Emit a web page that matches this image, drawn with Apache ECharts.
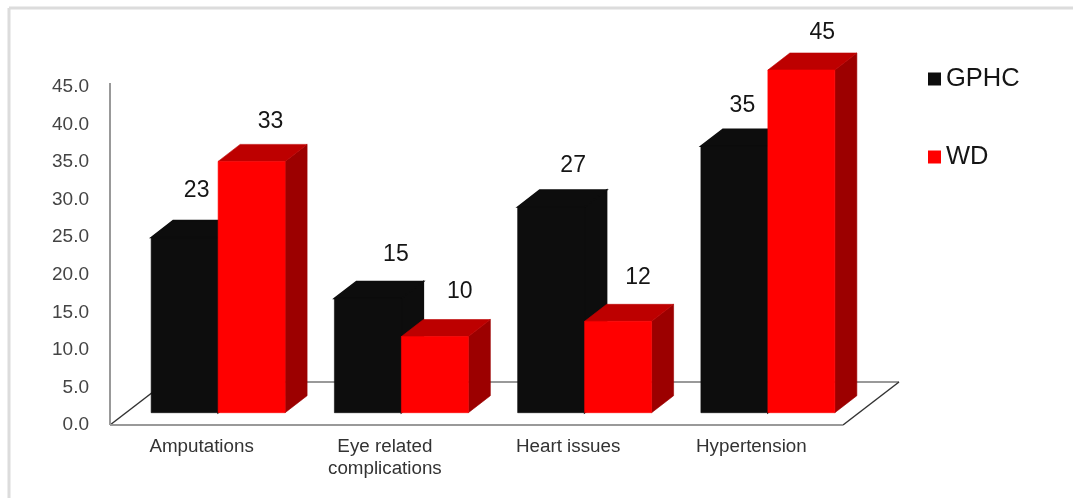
<!DOCTYPE html>
<html>
<head>
<meta charset="utf-8">
<style>html,body{margin:0;padding:0;background:#fff}#c{width:1073px;height:498px}</style>
<script src="https://cdn.jsdelivr.net/npm/echarts@6/dist/echarts.min.js"></script>
</head>
<body>
<div id="c"></div>
<script>
const categories = ['Amputations', 'Eye related\ncomplications', 'Heart issues', 'Hypertension'];
const gphc = [23, 15, 27, 35];
const wd = [33, 10, 12, 45];
const yTicks = [0, 5, 10, 15, 20, 25, 30, 35, 40, 45];

// Label placement and styling, kept apart from the data
const gphcLabelNudge = [[12, -47], [28, -44], [22, -41.5], [8, -40]];
const wdLabelNudge = [[19, -39.5], [25, -45], [20, -44], [21, -37.5]];
const FONT = '"Liberation Sans", Arial, sans-serif';
const BAR_FRACTION = 0.3655, DEPTH_X = 22, DEPTH_Y = 17;
const FLOOR_X = 56, FLOOR_Y = 43;

function bar3d(side, colors, values, nudges) {
  return function (params, api) {
    const i = api.value(0);
    const band = api.size([1, 0])[0];
    const w = band * BAR_FRACTION;
    const c = api.coord([i, api.value(1)]);
    const b = api.coord([i, 0]);
    const x0 = c[0] + (side < 0 ? -w : 0), x1 = x0 + w;
    const top = c[1], base = b[1];
    const n = nudges[params.dataIndex];
    const sw = colors.seam;
    return {
      type: 'group',
      children: [
        { type: 'polygon', silent: true, shape: { points: [[x1, top], [x1 + DEPTH_X, top - DEPTH_Y], [x1 + DEPTH_X, base - DEPTH_Y], [x1, base]] }, style: { fill: colors.side, stroke: colors.side, lineWidth: sw } },
        { type: 'polygon', silent: true, shape: { points: [[x0, top], [x0 + DEPTH_X, top - DEPTH_Y], [x1 + DEPTH_X, top - DEPTH_Y], [x1, top]] }, style: { fill: colors.top, stroke: colors.top, lineWidth: sw } },
        { type: 'rect', silent: true, shape: { x: x0, y: top, width: w, height: base - top }, style: { fill: colors.front, stroke: colors.front, lineWidth: 0.6 } },
        { type: 'text', silent: true, z2: 50, style: { text: String(values[params.dataIndex]), x: (x0 + x1) / 2 + n[0], y: top + n[1], fill: '#151515', font: '23px ' + FONT, align: 'center', verticalAlign: 'middle' } }
      ]
    };
  };
}

function floor(params, api) {
  const r = params.coordSys;
  const L = r.x, R = r.x + r.width, B = r.y + r.height;
  return {
    type: 'group',
    children: [
      { type: 'polyline', silent: true, shape: { points: [[L + FLOOR_X, B - FLOOR_Y], [R + FLOOR_X, B - FLOOR_Y]] }, style: { fill: null, stroke: '#777', lineWidth: 1.5 } },
      { type: 'polyline', silent: true, shape: { points: [[L, B], [L + FLOOR_X, B - FLOOR_Y]] }, style: { fill: null, stroke: '#333', lineWidth: 1.5 } },
      { type: 'polyline', silent: true, shape: { points: [[R, B], [R + FLOOR_X, B - FLOOR_Y]] }, style: { fill: null, stroke: '#333', lineWidth: 1.5 } },
      { type: 'polyline', silent: true, shape: { points: [[L, B], [L, r.y - 4]] }, style: { fill: null, stroke: '#999', lineWidth: 2 } },
      { type: 'polyline', silent: true, shape: { points: [[L, B], [R, B]] }, style: { fill: null, stroke: '#999', lineWidth: 2 } }
    ]
  };
}

const chart = echarts.init(document.getElementById('c'), null, { renderer: 'canvas' });
chart.setOption({
  animation: false,
  backgroundColor: '#fff',
  textStyle: { fontFamily: FONT },
  graphic: [
    { type: 'line', silent: true, shape: { x1: 9, y1: 8, x2: 9, y2: 498 }, style: { stroke: '#dcdcdc', lineWidth: 3 } },
    { type: 'line', silent: true, shape: { x1: 9, y1: 8, x2: 1073, y2: 8 }, style: { stroke: '#dcdcdc', lineWidth: 3 } }
  ],
  legend: {
    data: ['GPHC', 'WD'],
    orient: 'vertical',
    left: 923,
    top: 61,
    icon: 'rect',
    itemWidth: 13,
    itemHeight: 13,
    itemGap: 52,
    selectedMode: false,
    textStyle: { fontSize: 25.5, lineHeight: 25, color: '#151515', fontFamily: FONT, padding: [0, 0, 0, 0] }
  },
  grid: [
    { left: 110, top: 87, width: 733, height: 338 },
    { left: 126.5, top: 70, width: 733, height: 342.7 }
  ],
  xAxis: [
    {
      gridIndex: 0, type: 'category', data: categories,
      axisLine: { show: false }, axisTick: { show: false },
      axisLabel: { fontSize: 18.8, lineHeight: 22, margin: 11, color: '#333', fontFamily: FONT, interval: 0 }
    },
    { gridIndex: 1, type: 'category', data: categories, show: false }
  ],
  yAxis: [
    {
      gridIndex: 0, type: 'value', min: yTicks[0], max: yTicks[yTicks.length - 1], interval: yTicks[1] - yTicks[0],
      axisLine: { show: false }, axisTick: { show: false }, splitLine: { show: false },
      axisLabel: { fontSize: 19, margin: 21, color: '#444', fontFamily: FONT, formatter: v => v.toFixed(1) }
    },
    { gridIndex: 1, type: 'value', min: yTicks[0], max: yTicks[yTicks.length - 1], show: false }
  ],
  series: [
    { type: 'custom', name: 'floor', xAxisIndex: 0, yAxisIndex: 0, clip: false, silent: true, z: 1, data: [[0, 0]], renderItem: floor },
    {
      type: 'custom', name: 'GPHC', xAxisIndex: 1, yAxisIndex: 1, clip: false, z: 2,
      itemStyle: { color: '#0d0d0d' },
      data: gphc.map((v, i) => [i, v]), encode: { x: 0, y: 1 },
      renderItem: bar3d(-1, { front: '#0d0d0d', top: '#0d0d0d', side: '#0d0d0d', seam: 1.5 }, gphc, gphcLabelNudge)
    },
    {
      type: 'custom', name: 'WD', xAxisIndex: 1, yAxisIndex: 1, clip: false, z: 3,
      itemStyle: { color: '#ff0000' },
      data: wd.map((v, i) => [i, v]), encode: { x: 0, y: 1 },
      renderItem: bar3d(1, { front: '#ff0000', top: '#bd0000', side: '#9c0000', seam: 0.6 }, wd, wdLabelNudge)
    }
  ]
});
</script>
</body>
</html>
